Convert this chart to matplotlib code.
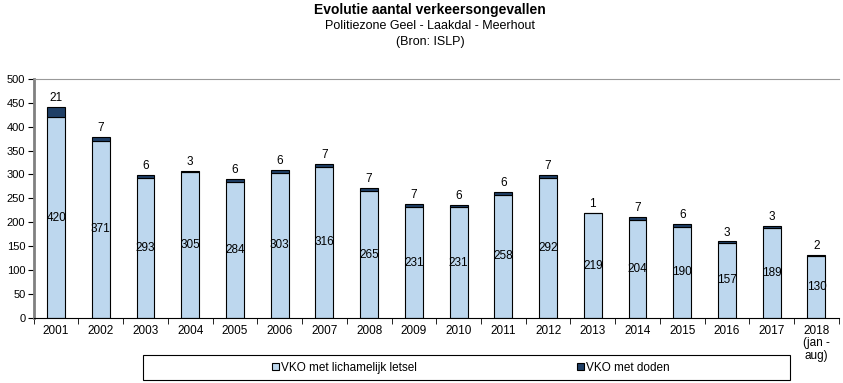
import numpy as np
import matplotlib.pyplot as plt
from matplotlib.patches import Rectangle

plt.rcParams['font.family'] = ['Liberation Sans', 'DejaVu Sans']

years = ['2001', '2002', '2003', '2004', '2005', '2006', '2007', '2008', '2009',
         '2010', '2011', '2012', '2013', '2014', '2015', '2016', '2017', '2018\n(jan -\naug)']
letsel = [420, 371, 293, 305, 284, 303, 316, 265, 231, 231, 258, 292, 219, 204, 190, 157, 189, 130]
doden = [21, 7, 6, 3, 6, 6, 7, 7, 7, 6, 6, 7, 1, 7, 6, 3, 3, 2]

fig = plt.figure(figsize=(8.43, 3.83), dpi=100)
ax = fig.add_axes([0.040, 0.170, 0.955, 0.624])

x = np.arange(len(years))
w = 0.4
light = '#BDD7EE'
dark = '#1F3F66'
b1 = ax.bar(x, letsel, w, color=light, edgecolor='black', linewidth=0.8,
            label='VKO met lichamelijk letsel')
b2 = ax.bar(x, doden, w, bottom=letsel, color=dark, edgecolor='black', linewidth=0.8,
            label='VKO met doden')

for i in range(len(years)):
    ax.text(x[i], letsel[i] / 2, str(letsel[i]), ha='center', va='center', fontsize=8.5)
    ax.text(x[i], letsel[i] + doden[i] + 6, str(doden[i]), ha='center', va='bottom', fontsize=8.5)

ax.set_xlim(-0.5, len(years) - 0.5)
ax.set_ylim(0, 500)
ax.set_yticks(range(0, 501, 50))
ax.set_xticks(x)
ax.set_xticklabels(years, fontsize=8.5, linespacing=1.05)
ax.tick_params(axis='y', labelsize=8, length=4, direction='out', pad=2)
ax.tick_params(axis='x', length=0, pad=5)
ax.set_xticks(np.arange(-0.5, len(years), 1), minor=True)
ax.tick_params(axis='x', which='minor', length=4, direction='out')

ax.spines['right'].set_visible(False)
ax.spines['top'].set_color('#999999')
ax.spines['left'].set_color('#808080')
ax.spines['left'].set_linewidth(2)
ax.spines['bottom'].set_color('black')

fig.text(0.51, 0.975, 'Evolutie aantal verkeersongevallen', ha='center', va='center',
         fontsize=10, fontweight='bold')
fig.text(0.51, 0.933, 'Politiezone Geel - Laakdal - Meerhout', ha='center', va='center', fontsize=9)
fig.text(0.51, 0.891, '(Bron: ISLP)', ha='center', va='center', fontsize=9)

# legend frame drawn separately so it can be wider than the entries
fig.patches.append(Rectangle((143 / 843, 3 / 383), 647 / 843, 25 / 383, transform=fig.transFigure,
                             facecolor='white', edgecolor='black', linewidth=0.8))
leg = fig.legend(handles=[b1, b2], loc='center left', bbox_to_anchor=(272 / 843, 0.040), ncol=2,
                 fontsize=8.5, frameon=False, handlelength=0.6, handleheight=0.6,
                 handletextpad=0.2, columnspacing=13.5, borderpad=0, borderaxespad=0)

fig.savefig('out.png', dpi=100)
